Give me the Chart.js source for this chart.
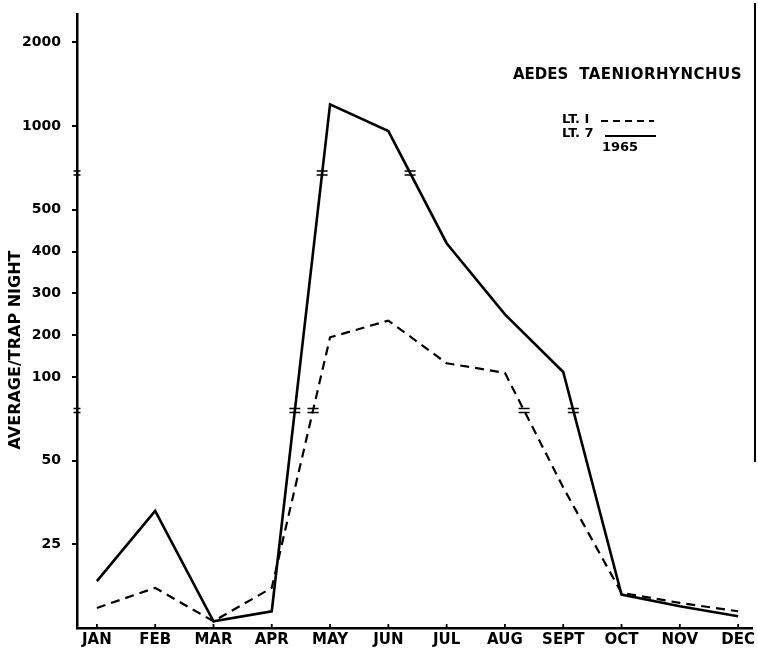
<!DOCTYPE html>
<html>
<head>
<meta charset="utf-8">
<script src="https://cdn.jsdelivr.net/npm/chart.js@4"></script>
<style>
  html, body { margin: 0; padding: 0; background: #fff; }
  canvas { display: block; }
</style>
</head>
<body>
<canvas id="grafico" width="758" height="649"></canvas>
<script>
const meses = ['JAN', 'FEB', 'MAR', 'APR', 'MAY', 'JUN', 'JUL', 'AUG', 'SEPT', 'OCT', 'NOV', 'DEC'];

// average / trap night, 1965
const lt1 = [6, 12, 2, 12, 195, 235, 133, 110, 42, 10.5, 7.5, 5];
const lt7 = [14, 35, 2, 5, 1260, 970, 420, 250, 112, 10, 6.5, 3.5];

const yTickValues = [25, 50, 100, 200, 300, 400, 500, 1000, 2000];
const yTickLabels = ['25', '50', '100', '200', '300', '400', '500', '1000', '2000'];

// broken axis: each piece is stretched differently
const quebras = [80, 720];
const nos = [[0, 0], [25, 1], [50, 2], [100, 3], [500, 5], [1000, 6], [2000, 7]];

function toUnits(v) {
    for (let i = 1; i < nos.length; i++) {
        const [v0, u0] = nos[i - 1];
        const [v1, u1] = nos[i];
        if (v <= v1 || i === nos.length - 1) {
            return u0 + (v - v0) / (v1 - v0) * (u1 - u0);
        }
    }
    return 0;
}

const fonte = '"DejaVu Sans", sans-serif';

function pontos(serie) {
    return serie.map((v, i) => ({ x: i, y: toUnits(v) }));
}

function marcaQuebra(ctx, x, y, w) {
    ctx.save();
    ctx.strokeStyle = '#000';
    ctx.lineWidth = 1.6;
    ctx.beginPath();
    ctx.moveTo(x - w / 2, y - 2); ctx.lineTo(x + w / 2, y - 2);
    ctx.moveTo(x - w / 2, y + 2); ctx.lineTo(x + w / 2, y + 2);
    ctx.stroke();
    ctx.restore();
}

const enfeites = {
    id: 'enfeites',
    afterDatasetsDraw(chart) {
        const ctx = chart.ctx;
        const y = chart.scales.y;
        const niveis = quebras.map(q => y.getPixelForValue(toUnits(q)));
        chart.data.datasets.forEach((ds, d) => {
            const pts = chart.getDatasetMeta(d).data;
            for (let i = 1; i < pts.length; i++) {
                const a = pts[i - 1], b = pts[i];
                niveis.forEach(yb => {
                    if ((a.y - yb) * (b.y - yb) < 0) {
                        const t = (yb - a.y) / (b.y - a.y);
                        marcaQuebra(ctx, a.x + t * (b.x - a.x), yb, 11);
                    }
                });
            }
        });
    },
    afterDraw(chart) {
        const ctx = chart.ctx;
        const { x, y } = chart.scales;
        const area = chart.chartArea;
        ctx.save();

        // small ticks standing up from the month axis
        ctx.strokeStyle = '#000';
        ctx.lineWidth = 1.8;
        meses.forEach((m, i) => {
            const px = x.getPixelForValue(i);
            ctx.beginPath();
            ctx.moveTo(px, area.bottom);
            ctx.lineTo(px, area.bottom - 4);
            ctx.stroke();
        });

        // breaks on the vertical axis
        quebras.forEach(q => marcaQuebra(ctx, area.left, y.getPixelForValue(toUnits(q)), 7));

        // frame line on the right
        ctx.lineWidth = 2;
        ctx.beginPath();
        ctx.moveTo(755, 3);
        ctx.lineTo(755, 462);
        ctx.stroke();

        // axis title
        ctx.fillStyle = '#000';
        ctx.save();
        ctx.translate(16, 350);
        ctx.rotate(-Math.PI / 2);
        ctx.font = 'bold 16px ' + fonte;
        ctx.textAlign = 'center';
        ctx.textBaseline = 'middle';
        ctx.fillText('AVERAGE/TRAP NIGHT', 0, 0);
        ctx.restore();

        // species and key
        ctx.font = 'bold 15px ' + fonte;
        ctx.textBaseline = 'alphabetic';
        ctx.textAlign = 'left';
        ctx.fillText('AEDES', 513, 79);
        ctx.letterSpacing = '0.5px';
        ctx.textAlign = 'right';
        ctx.fillText('TAENIORHYNCHUS', 742, 79);
        ctx.letterSpacing = '0px';

        ctx.font = 'bold 13px ' + fonte;
        ctx.textAlign = 'left';
        ctx.fillText('LT. I', 562, 123);
        ctx.fillText('LT. 7', 562, 137);
        ctx.textAlign = 'center';
        ctx.fillText('1965', 620, 151);

        ctx.lineWidth = 2;
        ctx.setLineDash([7, 5]);
        ctx.beginPath();
        ctx.moveTo(601, 121);
        ctx.lineTo(654, 121);
        ctx.stroke();
        ctx.setLineDash([]);
        ctx.beginPath();
        ctx.moveTo(605, 136);
        ctx.lineTo(656, 136);
        ctx.stroke();
        ctx.restore();
    }
};

const ctx = document.getElementById('grafico').getContext('2d');

new Chart(ctx, {
    type: 'line',
    data: {
        datasets: [
            {
                label: 'LT. I',
                data: pontos(lt1),
                borderColor: '#000',
                borderWidth: 2.2,
                borderDash: [9, 6],
                pointRadius: 0,
                tension: 0,
                fill: false
            },
            {
                label: 'LT. 7',
                data: pontos(lt7),
                borderColor: '#000',
                borderWidth: 2.6,
                pointRadius: 0,
                tension: 0,
                fill: false
            }
        ]
    },
    options: {
        responsive: false,
        animation: false,
        devicePixelRatio: 1,
        layout: { padding: { top: 14, right: 2, left: 0, bottom: 0 } },
        plugins: {
            legend: { display: false },
            tooltip: { enabled: false }
        },
        scales: {
            x: {
                type: 'linear',
                min: -0.341,
                max: 11.24,
                afterFit: (scale) => { scale.height = 21; },
                afterBuildTicks: (scale) => {
                    scale.ticks = meses.map((m, i) => ({ value: i }));
                },
                ticks: {
                    autoSkip: false,
                    maxRotation: 0,
                    padding: 3,
                    color: '#000',
                    font: { family: fonte, size: 15, weight: 'bold' },
                    callback: (v, i) => meses[i]
                },
                grid: { display: false, drawTicks: false },
                border: { display: true, color: '#000', width: 2.5 }
            },
            y: {
                type: 'linear',
                min: 0,
                max: 7.34,
                afterFit: (scale) => {
                    scale.width = 77;
                    scale.paddingTop = 0;
                    scale.paddingBottom = 0;
                },
                afterBuildTicks: (scale) => {
                    scale.ticks = yTickValues.map(v => ({ value: toUnits(v) }));
                },
                ticks: {
                    padding: 11,
                    color: '#000',
                    font: { family: fonte, size: 14, weight: 'bold' },
                    callback: (v, i) => yTickLabels[i]
                },
                grid: {
                    drawOnChartArea: false,
                    drawTicks: true,
                    tickLength: 5,
                    color: '#000',
                    lineWidth: 2
                },
                border: { display: true, color: '#000', width: 2.5 }
            }
        }
    },
    plugins: [enfeites]
});
</script>
</body>
</html>
